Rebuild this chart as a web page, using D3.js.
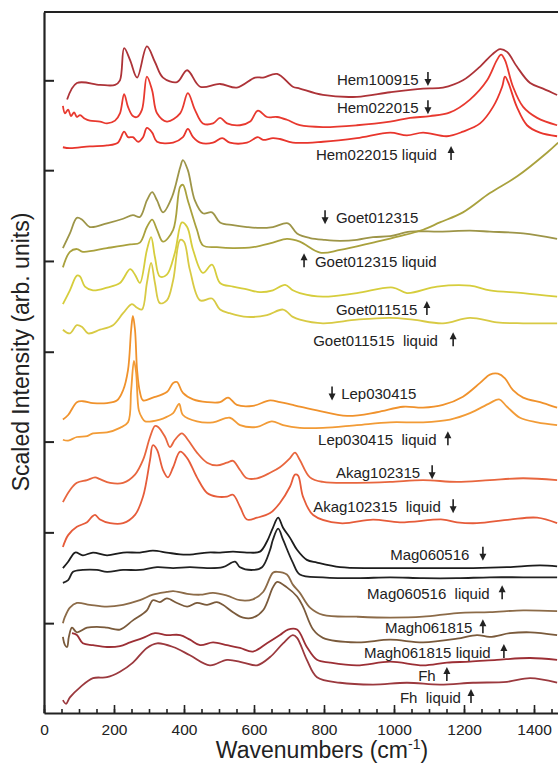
<!DOCTYPE html>
<html>
<head>
<meta charset="utf-8">
<script src="https://cdn.jsdelivr.net/npm/d3@7"></script>
<style>
  body { margin: 0; background: #fff; }
  svg { display: block; }
  text { font-family: "Liberation Sans", Arial, sans-serif; fill: #222; }
</style>
</head>
<body>
<svg id="chart" width="558" height="768"></svg>
<script>
// spectra as [wavenumber, scaled intensity incl. stack offset]
const hem100915 = [[66,6.69],[94,6.87],[160,6.85],[203,6.85],[217,6.90],[229,7.25],[246,7.12],[266,6.93],[294,7.27],[317,7.10],[340,6.93],[380,6.88],[409,7.01],[446,6.83],[503,6.86],[551,6.82],[603,6.93],[626,6.93],[666,6.97],[711,6.83],[731,6.81],[797,6.74],[894,6.72],[989,6.77],[1083,6.81],[1140,6.82],[1197,6.90],[1246,7.05],[1280,7.18],[1303,7.24],[1323,7.21],[1351,7.05],[1389,6.87],[1426,6.81],[1466,6.74]];
const hem022015 = [[54,6.62],[60,6.54],[69,6.58],[77,6.51],[86,6.55],[94,6.50],[103,6.52],[117,6.48],[131,6.46],[160,6.45],[180,6.43],[203,6.46],[217,6.54],[229,6.75],[240,6.61],[254,6.51],[266,6.50],[280,6.58],[294,6.94],[309,6.79],[323,6.54],[351,6.45],[389,6.54],[411,6.76],[431,6.58],[454,6.43],[483,6.43],[503,6.49],[523,6.43],[560,6.41],[589,6.45],[611,6.57],[637,6.50],[666,6.50],[694,6.47],[731,6.41],[797,6.39],[894,6.41],[989,6.45],[1046,6.49],[1103,6.51],[1160,6.55],[1217,6.69],[1266,6.90],[1294,7.12],[1306,7.18],[1317,7.12],[1340,6.83],[1369,6.61],[1409,6.49],[1466,6.41]];
const hem022015Liquid = [[54,6.17],[74,6.16],[131,6.18],[180,6.19],[211,6.22],[229,6.34],[240,6.28],[254,6.28],[269,6.23],[283,6.28],[294,6.38],[309,6.33],[323,6.23],[369,6.22],[397,6.28],[411,6.37],[426,6.28],[446,6.22],[483,6.22],[509,6.27],[531,6.22],[580,6.22],[611,6.28],[626,6.25],[654,6.27],[674,6.26],[711,6.22],[797,6.23],[894,6.27],[989,6.33],[1037,6.30],[1083,6.33],[1151,6.29],[1197,6.34],[1246,6.43],[1283,6.61],[1309,6.83],[1317,6.94],[1326,6.88],[1351,6.61],[1380,6.41],[1417,6.33],[1466,6.29]];
const goet012315 = [[54,5.07],[74,5.23],[94,5.40],[109,5.38],[131,5.30],[180,5.34],[226,5.39],[254,5.43],[274,5.41],[294,5.59],[309,5.68],[323,5.59],[340,5.46],[366,5.63],[389,5.95],[397,6.03],[411,5.92],[431,5.59],[454,5.45],[480,5.46],[503,5.35],[540,5.32],[580,5.30],[617,5.29],[654,5.30],[697,5.34],[723,5.23],[760,5.18],[803,5.16],[846,5.15],[894,5.16],[940,5.19],[989,5.20],[1046,5.25],[1131,5.25],[1217,5.26],[1274,5.25],[1369,5.23],[1466,5.17]];
const goet012315Liquid = [[54,4.86],[74,5.03],[94,5.06],[111,5.03],[180,5.07],[246,5.11],[274,5.13],[294,5.30],[309,5.38],[323,5.27],[340,5.14],[369,5.27],[389,5.74],[397,5.76],[411,5.59],[437,5.27],[454,5.10],[494,5.08],[540,5.07],[597,5.08],[654,5.13],[694,5.17],[731,5.14],[789,5.02],[846,5.05],[940,5.13],[1017,5.20],[1083,5.27],[1131,5.35],[1197,5.46],[1274,5.67],[1351,5.85],[1437,6.11],[1469,6.22]];
const goet011515 = [[54,4.46],[74,4.61],[94,4.77],[103,4.76],[117,4.65],[140,4.61],[180,4.64],[217,4.69],[246,4.84],[260,4.78],[274,4.69],[294,5.05],[306,5.19],[317,4.97],[331,4.76],[351,4.78],[374,5.02],[394,5.35],[409,5.30],[426,5.05],[454,4.80],[480,4.89],[503,4.69],[540,4.65],[580,4.62],[617,4.59],[654,4.61],[689,4.67],[711,4.61],[731,4.58],[797,4.54],[894,4.58],[997,4.64],[1037,4.58],[1123,4.65],[1217,4.66],[1274,4.61],[1369,4.58],[1466,4.54]];
const goet011515Liquid = [[54,4.18],[74,4.14],[94,4.23],[109,4.21],[126,4.14],[160,4.18],[197,4.23],[226,4.36],[251,4.46],[266,4.42],[280,4.40],[294,4.69],[306,4.91],[317,4.69],[331,4.47],[351,4.50],[369,4.72],[389,5.16],[400,5.14],[417,4.83],[446,4.50],[480,4.52],[503,4.40],[531,4.36],[580,4.32],[637,4.34],[683,4.40],[711,4.32],[731,4.29],[797,4.25],[894,4.29],[989,4.31],[1054,4.29],[1140,4.25],[1217,4.31],[1294,4.26],[1369,4.25],[1466,4.25]];
const lep030415 = [[54,3.20],[69,3.25],[94,3.39],[111,3.40],[140,3.38],[180,3.38],[209,3.41],[226,3.52],[240,3.74],[249,4.18],[254,4.33],[260,4.18],[266,3.74],[274,3.50],[283,3.41],[311,3.44],[351,3.50],[369,3.60],[380,3.61],[397,3.49],[426,3.42],[466,3.39],[503,3.39],[526,3.44],[551,3.36],[597,3.35],[646,3.41],[674,3.39],[711,3.36],[731,3.34],[780,3.30],[866,3.24],[951,3.28],[1026,3.34],[1083,3.33],[1140,3.36],[1197,3.45],[1246,3.60],[1274,3.69],[1297,3.70],[1317,3.65],[1340,3.52],[1369,3.44],[1426,3.38],[1466,3.33]];
const lep030415Liquid = [[54,2.98],[69,2.97],[94,3.01],[123,3.02],[140,3.05],[180,3.06],[217,3.11],[240,3.17],[249,3.52],[257,3.84],[263,3.72],[271,3.30],[280,3.22],[289,3.18],[331,3.20],[351,3.23],[369,3.27],[386,3.37],[397,3.25],[437,3.18],[483,3.17],[531,3.22],[560,3.14],[609,3.12],[651,3.18],[683,3.14],[731,3.11],[797,3.11],[894,3.14],[989,3.17],[1083,3.17],[1160,3.20],[1217,3.27],[1274,3.38],[1300,3.42],[1323,3.34],[1360,3.22],[1409,3.17],[1466,3.14]];
const akag102315 = [[54,2.30],[74,2.43],[94,2.51],[123,2.54],[146,2.57],[160,2.55],[189,2.51],[226,2.51],[260,2.60],[283,2.76],[303,3.01],[317,3.13],[326,3.12],[346,3.01],[360,2.90],[374,2.98],[394,3.05],[411,2.98],[437,2.84],[466,2.73],[494,2.70],[523,2.73],[540,2.75],[560,2.65],[580,2.56],[609,2.56],[646,2.62],[674,2.68],[703,2.78],[717,2.84],[731,2.76],[760,2.57],[797,2.52],[894,2.51],[989,2.52],[1083,2.54],[1180,2.52],[1274,2.54],[1369,2.56],[1466,2.54]];
const akag102315Liquid = [[54,1.81],[69,1.94],[94,2.03],[123,2.08],[137,2.14],[146,2.16],[160,2.11],[189,2.07],[226,2.07],[260,2.16],[283,2.36],[303,2.76],[311,2.92],[323,2.87],[340,2.65],[354,2.57],[369,2.68],[389,2.85],[409,2.78],[437,2.57],[466,2.40],[494,2.36],[523,2.36],[540,2.38],[560,2.25],[580,2.11],[609,2.13],[646,2.18],[674,2.29],[703,2.47],[717,2.60],[726,2.59],[740,2.36],[769,2.16],[846,2.07],[940,2.11],[1017,2.08],[1140,2.11],[1180,2.08],[1237,2.07],[1331,2.11],[1409,2.13],[1466,2.07]];
const mag060516 = [[54,1.58],[69,1.65],[89,1.75],[111,1.72],[140,1.75],[180,1.72],[226,1.75],[274,1.75],[311,1.77],[351,1.75],[389,1.73],[426,1.73],[466,1.75],[503,1.75],[540,1.76],[580,1.75],[617,1.76],[637,1.87],[654,2.02],[669,2.13],[683,2.02],[703,1.91],[723,1.78],[751,1.67],[780,1.64],[846,1.59],[940,1.58],[1037,1.58],[1131,1.58],[1226,1.58],[1323,1.59],[1417,1.61],[1466,1.60]];
const mag060516Liquid = [[54,1.42],[69,1.45],[83,1.54],[111,1.56],[151,1.56],[180,1.54],[226,1.56],[274,1.56],[323,1.59],[369,1.58],[417,1.59],[466,1.58],[511,1.59],[546,1.65],[560,1.59],[597,1.56],[623,1.59],[646,1.78],[654,1.89],[669,2.01],[683,1.89],[711,1.64],[731,1.51],[797,1.48],[894,1.47],[989,1.48],[1083,1.47],[1180,1.47],[1274,1.48],[1369,1.48],[1466,1.48]];
const magh061815 = [[54,0.98],[60,1.05],[74,1.15],[94,1.20],[131,1.18],[180,1.16],[226,1.18],[274,1.23],[311,1.29],[351,1.32],[369,1.33],[409,1.30],[446,1.29],[483,1.31],[523,1.28],[560,1.23],[597,1.24],[626,1.32],[654,1.53],[666,1.54],[694,1.51],[711,1.40],[731,1.31],[760,1.15],[797,1.07],[894,1.05],[989,1.04],[1083,1.05],[1180,1.09],[1274,1.10],[1369,1.12],[1466,1.11]];
const magh061815Liquid = [[54,0.83],[60,0.74],[66,0.72],[71,0.83],[80,0.93],[94,0.88],[123,0.93],[151,0.94],[180,0.93],[217,0.91],[254,1.01],[294,1.12],[311,1.23],[331,1.21],[351,1.25],[380,1.20],[409,1.16],[437,1.20],[466,1.18],[494,1.21],[511,1.18],[540,1.10],[569,1.04],[597,1.04],[626,1.12],[654,1.37],[666,1.43],[694,1.37],[723,1.27],[740,1.16],[769,0.91],[797,0.82],[894,0.77],[989,0.80],[1083,0.77],[1180,0.81],[1237,0.85],[1274,0.83],[1331,0.87],[1389,0.88],[1466,0.85]];
const fh = [[80,0.87],[94,0.85],[111,0.76],[140,0.74],[180,0.72],[217,0.73],[246,0.77],[283,0.82],[317,0.87],[351,0.85],[389,0.85],[417,0.80],[446,0.74],[483,0.77],[523,0.74],[560,0.71],[597,0.67],[637,0.76],[674,0.85],[697,0.91],[723,0.91],[751,0.72],[780,0.58],[817,0.55],[894,0.52],[989,0.56],[1083,0.52],[1151,0.55],[1217,0.56],[1294,0.58],[1389,0.60],[1466,0.58]];
const fhLiquid = [[54,0.14],[63,0.10],[74,0.17],[103,0.28],[140,0.38],[180,0.39],[217,0.45],[254,0.55],[294,0.71],[323,0.76],[369,0.72],[417,0.63],[474,0.52],[523,0.58],[569,0.55],[609,0.52],[646,0.61],[683,0.76],[711,0.85],[723,0.82],[751,0.58],[780,0.39],[846,0.33],[940,0.31],[1037,0.33],[1131,0.31],[1226,0.33],[1323,0.34],[1389,0.38],[1466,0.33]];

const seriesNames = ["Hem100915","Hem022015","Hem022015 liquid","Goet012315","Goet012315 liquid","Goet011515","Goet011515  liquid","Lep030415","Lep030415  liquid","Akag102315","Akag102315  liquid","Mag060516","Mag060516  liquid","Magh061815","Magh061815 liquid","Fh","Fh  liquid"];
const seriesData = [hem100915, hem022015, hem022015Liquid, goet012315, goet012315Liquid, goet011515, goet011515Liquid, lep030415, lep030415Liquid, akag102315, akag102315Liquid, mag060516, mag060516Liquid, magh061815, magh061815Liquid, fh, fhLiquid];
const seriesColors = ["#ad3338","#e8392f","#e8352c","#9d9548","#a9a13d","#d6cd3c","#d8ca44","#f0922c","#f29b36","#e8663e","#e65c3a","#1c1c1c","#222222","#8c6b48","#7a5a3b","#9c2f35","#9b393e"];

// label text position (wavenumber, intensity at baseline), arrow position and direction
const labelX = [837,837,777,834,774,834,769,849,783,834,769,989,923,974,914,1069,1017];
const labelY = [6.85,6.54,6.03,5.34,4.86,4.34,4.00,3.42,2.92,2.56,2.19,1.67,1.24,0.87,0.60,0.35,0.11];
const arrowX = [1097,1097,1163,803,743,1094,1169,823,1154,1109,1169,1254,1309,1254,1314,1151,1220];
const arrowDir = ["down","down","up","down","up","up","up","down","up","down","down","down","up","up","up","up","up"];

const xMajorTicks = [0,200,400,600,800,1000,1200,1400];
const yTicks = [0.98,1.97,2.96,3.94,4.93,5.92,6.90];

const svg = d3.select("#chart");
const x = d3.scaleLinear().domain([0, 1600]).range([44, 604]);
const y = d3.scaleLinear().domain([0, 7.645]).range([713, 12]);

const line = d3.line()
  .x(d => x(d[0]))
  .y(d => y(d[1]))
  .curve(d3.curveCatmullRom.alpha(0.5));

svg.append("g")
  .selectAll("path")
  .data(seriesData)
  .join("path")
    .attr("fill", "none")
    .attr("stroke", (d, i) => seriesColors[i])
    .attr("stroke-width", 1.8)
    .attr("stroke-linejoin", "round")
    .attr("d", line);

// frame: top border
svg.append("line")
  .attr("x1", x(0)).attr("x2", 558)
  .attr("y1", y(7.645)).attr("y2", y(7.645))
  .attr("stroke", "#222").attr("stroke-width", 2.2);

// x axis, ticks pointing inward
const xMinor = svg.append("g")
  .attr("transform", `translate(0,${y(0)})`)
  .call(d3.axisBottom(x).tickValues(d3.range(0, 1600, 50)).tickSize(-4).tickFormat("").tickSizeOuter(0));
xMinor.select(".domain").remove();

const xAxis = svg.append("g")
  .attr("transform", `translate(0,${y(0)})`)
  .call(d3.axisBottom(x).tickValues(xMajorTicks).tickFormat(d3.format("d")).tickSize(-8).tickPadding(11).tickSizeOuter(0));
xAxis.selectAll("text")
  .attr("font-size", 15.5)
  .style("font-family", "'Liberation Sans', Arial, sans-serif")
  .attr("fill", "#222");
svg.selectAll(".tick line").attr("stroke", "#222").attr("stroke-width", 1.6);
xAxis.select(".domain").attr("stroke", "#222").attr("stroke-width", 2.2);

// y axis, unlabeled ticks
const yAxis = svg.append("g")
  .attr("transform", `translate(${x(0)},0)`)
  .call(d3.axisLeft(y).tickValues(yTicks).tickSize(-10).tickFormat("").tickSizeOuter(0));
yAxis.selectAll(".tick line").attr("stroke", "#222").attr("stroke-width", 2);
yAxis.select(".domain").attr("stroke", "#222").attr("stroke-width", 2.2);

// sample labels
svg.append("g")
  .selectAll("text")
  .data(seriesNames)
  .join("text")
    .attr("x", (d, i) => x(labelX[i]))
    .attr("y", (d, i) => y(labelY[i]))
    .attr("font-size", 15)
    .style("white-space", "pre")
    .text(d => d);

// arrows
const arrows = svg.append("g")
  .selectAll("g")
  .data(arrowX)
  .join("g")
    .attr("transform", (d, i) => `translate(${x(d)},${y(labelY[i])})`);
arrows.append("line")
  .attr("x1", 0).attr("x2", 0)
  .attr("y1", (d, i) => arrowDir[i] === "up" ? -8 : -13)
  .attr("y2", (d, i) => arrowDir[i] === "up" ? 0 : -5)
  .attr("stroke", "#222").attr("stroke-width", 1.6);
arrows.append("path")
  .attr("d", (d, i) => arrowDir[i] === "up" ? "M0,-14L-3.5,-7L3.5,-7Z" : "M0,1L-3.5,-6L3.5,-6Z")
  .attr("fill", "#222");

// axis titles
svg.append("text")
  .attr("x", 322).attr("y", 758)
  .attr("text-anchor", "middle")
  .attr("font-size", 23)
  .html('Wavenumbers (cm<tspan dy="-9" font-size="14">-1</tspan><tspan dy="9">)</tspan>');

svg.append("text")
  .attr("transform", "translate(29,352) rotate(-90)")
  .attr("text-anchor", "middle")
  .attr("font-size", 23)
  .text("Scaled Intensity (arb. units)");
</script>
</body>
</html>
